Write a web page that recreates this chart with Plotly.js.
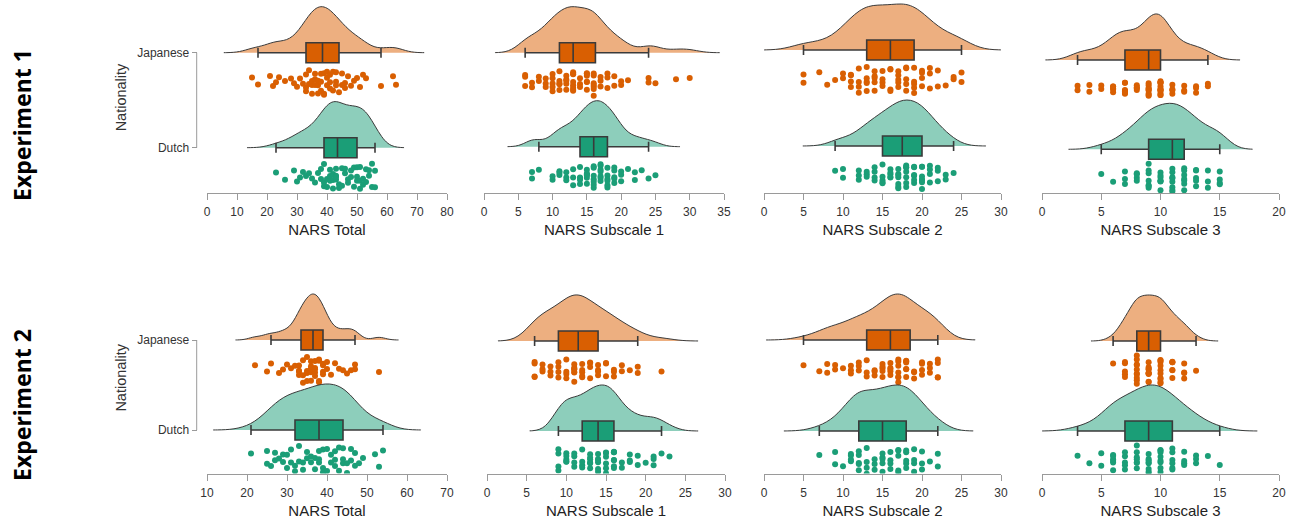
<!DOCTYPE html>
<html><head><meta charset="utf-8">
<script src="https://cdn.plot.ly/plotly-3.0.1.min.js"></script>
<style>html,body{margin:0;padding:0;background:#fff}#chart{width:1297px;height:522px}</style>
</head><body><div id="chart"></div>
<script>
// ---------------- DATA ----------------
const experiments = ['Experiment 1', 'Experiment 2'];
const measures = ['NARS Total', 'NARS Subscale 1', 'NARS Subscale 2', 'NARS Subscale 3'];
const nationalities = ['Japanese', 'Dutch'];
const nationalityTicks = ['Dutch', 'Japanese'];

// NARS Total (raw scores)
const exp1_total_japanese = [15,17,21,22,23,24,26,28,29,30,31,32,33,33,33,34,34,35,35,35,36,36,36,37,37,37,38,38,38,39,39,39,40,40,40,41,41,41,42,42,43,43,43,44,45,45,46,46,47,48,49,50,51,52,53,58,62,63];
const exp1_total_dutch = [23,26,29,30,31,32,33,34,35,36,37,38,38,39,39,39,40,40,41,41,41,42,42,42,43,43,43,43,44,44,45,45,46,46,47,47,48,48,49,49,50,50,50,51,51,51,52,52,53,53,54,54,55,55,56,56];
const exp2_total_japanese = [22,25,26,28,29,30,31,32,33,33,33,33,34,34,34,35,35,35,35,36,36,36,36,36,37,37,37,37,37,38,38,38,38,39,39,39,39,40,40,41,42,43,44,45,46,47,47,53];
const exp2_total_dutch = [21,25,25,26,27,27,28,29,29,30,30,31,31,32,32,33,33,34,34,35,35,36,36,37,37,38,38,38,39,39,39,40,40,41,41,42,42,42,43,43,44,44,44,45,45,46,46,47,47,48,49,52,53,54];

// Subscales: integer scores and how many participants had each score
const exp1_sub1_japanese_scores = [6,7,8,9,10,11,12,13,14,15,16,17,18,19,20,21,24,25,28,30];
const exp1_sub1_japanese_counts = [3,2,2,3,5,5,5,8,3,6,7,3,3,2,2,1,2,1,1,1];
const exp1_sub1_dutch_scores = [7,8,10,11,12,13,14,15,16,17,18,19,20,21,22,23,24,25];
const exp1_sub1_dutch_counts = [2,1,2,3,3,3,5,6,7,7,6,5,3,1,2,1,1,1];
const exp1_sub2_japanese_scores = [5,7,8,9,10,11,12,13,14,15,16,17,18,19,20,21,22,23,24,25];
const exp1_sub2_japanese_counts = [2,1,1,1,2,4,4,5,5,4,4,5,5,5,4,3,2,1,2,2];
const exp1_sub2_dutch_scores = [9,10,12,13,14,15,16,17,18,19,20,21,22,23,24];
const exp1_sub2_dutch_counts = [1,2,3,3,4,5,5,7,7,6,7,4,3,2,1];
const exp1_sub3_japanese_scores = [3,4,5,6,7,8,9,10,11,12,13,14];
const exp1_sub3_japanese_counts = [2,2,2,5,7,4,9,12,4,3,3,2];
const exp1_sub3_dutch_scores = [5,6,7,8,9,10,11,12,13,14,15];
const exp1_sub3_dutch_counts = [1,1,3,4,7,7,8,7,5,3,4];

const exp2_sub1_japanese_scores = [6,7,8,9,10,11,12,13,14,15,16,17,18,19,22];
const exp2_sub1_japanese_counts = [4,3,3,4,4,7,5,4,4,3,3,2,1,2,1];
const exp2_sub1_dutch_scores = [9,10,11,12,13,14,15,16,17,18,19,20,21,22,23];
const exp2_sub1_dutch_counts = [4,5,4,4,6,6,6,7,2,3,2,1,3,1,1];
const exp2_sub2_japanese_scores = [5,7,8,9,10,11,12,13,14,15,16,17,18,19,20,21,22];
const exp2_sub2_japanese_counts = [1,1,2,2,1,3,3,3,3,5,5,7,6,3,4,3,4];
const exp2_sub2_dutch_scores = [7,9,10,11,12,13,14,15,16,17,18,19,20,21,22];
const exp2_sub2_dutch_counts = [1,2,1,4,5,4,3,5,4,5,5,4,3,1,2];
const exp2_sub3_japanese_scores = [6,7,8,9,10,11,12,13];
const exp2_sub3_japanese_counts = [1,5,10,10,10,6,4,1];
const exp2_sub3_dutch_scores = [3,4,5,6,7,8,9,10,11,12,13,14,15];
const exp2_sub3_dutch_counts = [1,1,2,6,5,7,8,8,6,4,3,1,1];

// x-axis ranges and tick spacing per panel
const axisRanges = [[0,80],[0,35],[0,30],[0,20],[10,70],[0,30],[0,30],[0,20]];
const axisDticks = [10,5,5,5,10,5,5,5];

// ---------------- helpers ----------------
function expand(scores, counts){const out=[];scores.forEach((s,i)=>{for(let k=0;k<counts[i];k++)out.push(s);});return out;}
function quantile(sorted,p){const h=(sorted.length-1)*p,lo=Math.floor(h),hi=Math.ceil(h);return sorted[lo]+(sorted[hi]-sorted[lo])*(h-lo);}
function bwNrd0(x){ // R default bandwidth (bw.nrd0)
  const n=x.length,m=x.reduce((a,b)=>a+b,0)/n;
  const sd=Math.sqrt(x.reduce((a,b)=>a+(b-m)*(b-m),0)/(n-1));
  const s=[...x].sort((a,b)=>a-b);
  const iqr=quantile(s,0.75)-quantile(s,0.25);
  const lo=Math.min(sd,iqr/1.34)||sd||1;
  return 0.9*lo*Math.pow(n,-0.2);
}

const panelData = [
  [exp1_total_japanese, exp1_total_dutch],
  [expand(exp1_sub1_japanese_scores,exp1_sub1_japanese_counts), expand(exp1_sub1_dutch_scores,exp1_sub1_dutch_counts)],
  [expand(exp1_sub2_japanese_scores,exp1_sub2_japanese_counts), expand(exp1_sub2_dutch_scores,exp1_sub2_dutch_counts)],
  [expand(exp1_sub3_japanese_scores,exp1_sub3_japanese_counts), expand(exp1_sub3_dutch_scores,exp1_sub3_dutch_counts)],
  [exp2_total_japanese, exp2_total_dutch],
  [expand(exp2_sub1_japanese_scores,exp2_sub1_japanese_counts), expand(exp2_sub1_dutch_scores,exp2_sub1_dutch_counts)],
  [expand(exp2_sub2_japanese_scores,exp2_sub2_japanese_counts), expand(exp2_sub2_dutch_scores,exp2_sub2_dutch_counts)],
  [expand(exp2_sub3_japanese_scores,exp2_sub3_japanese_counts), expand(exp2_sub3_dutch_scores,exp2_sub3_dutch_counts)]
];

// ---------------- layout geometry (pixels) ----------------
const W=1297,H=522;
const panelX = [[207,447],[484,724],[764,1001],[1042,1279],[207,447],[487,725],[764,1001],[1042,1279]];
const panelBase = [[52.7,147.7],[52.7,146.7],[50,146],[60,149.3],[340,430],[341,431],[340,431],[341,431]]; // japanese, dutch baselines
const rowTopBottom = [[2,193],[282,473.5]];
const VIOLIN_PX = 46, BOX_PX = 20, DOT_OFFSET_PX = 28, JITTER = 0.33;

const colors = {
  Japanese:{dark:'#D95F02', light:'#EDAF80'},
  Dutch:{dark:'#1B9E77', light:'#8DCEBB'}
};

const traces=[];
const layout={
  width:W,height:H,margin:{l:0,r:0,t:0,b:0},paper_bgcolor:'#fff',plot_bgcolor:'rgba(0,0,0,0)',
  showlegend:false,font:{family:'Liberation Sans, Arial, sans-serif',color:'#333',size:12},
  violinmode:'overlay',boxmode:'overlay',shapes:[],annotations:[]
};

for(let p=0;p<8;p++){
  const row=p<4?0:1, col=p%4;
  const sfx=p===0?'':String(p+1);
  const [yJ,yD]=panelBase[p];
  const [topPx,botPx]=rowTopBottom[row];
  const u=yD-yJ;
  const yRange=[-(botPx-yD)/u, 1+(yJ-topPx)/u];
  nationalities.forEach((nat)=>{
    const vals=panelData[p][nationalities.indexOf(nat)];
    const pos = nat==='Japanese'?1:0;
    const bw=bwNrd0(vals);
    const mn=Math.min(...vals), mx=Math.max(...vals);
    // half-violin (cloud) + jittered raw points (rain)
    traces.push({
      type:'violin',orientation:'h',x:vals,y0:pos,name:nat+p,
      side:'positive',width:2*VIOLIN_PX/u,scalegroup:'panel'+p,scalemode:'width',
      bandwidth:bw,spanmode:'manual',span:[mn-3*bw,mx+3*bw],
      points:'all',pointpos:-DOT_OFFSET_PX/VIOLIN_PX,jitter:JITTER,
      marker:{color:colors[nat].dark,size:6,opacity:1,line:{width:0}},
      box:{visible:false},meanline:{visible:false},
      fillcolor:colors[nat].light,line:{color:'#3a3a3a',width:1},
      hoverinfo:'skip',xaxis:'x'+sfx,yaxis:'y'+sfx
    });
    // box plot with Tukey whiskers (outlier markers hidden, they are shown as rain)
    traces.push({
      type:'box',orientation:'h',x:vals,y0:pos,name:nat+'box'+p,
      width:BOX_PX/u,boxpoints:'outliers',marker:{opacity:0},
      whiskerwidth:0.5,fillcolor:colors[nat].dark,line:{color:'#3a3a3a',width:1.6},
      hoverinfo:'skip',xaxis:'x'+sfx,yaxis:'y'+sfx
    });
  });
  layout['xaxis'+sfx]={
    domain:[panelX[p][0]/W,panelX[p][1]/W],range:axisRanges[p],anchor:'y'+sfx,
    showline:true,linecolor:'#9a9a9a',linewidth:1,ticks:'outside',ticklen:6,tickcolor:'#9a9a9a',
    tick0:0,dtick:axisDticks[p],showgrid:false,zeroline:false,
    tickfont:{size:12,color:'#333'},ticklabelstandoff:2,
    title:{text:measures[col],font:{size:15,color:'#222'},standoff:6}
  };
  const ya={domain:[1-botPx/H,1-topPx/H],range:yRange,showgrid:false,zeroline:false,fixedrange:true};
  if(col===0){
    Object.assign(ya,{anchor:'free',position:196.7/W,showline:false,tickvals:[0,1],ticktext:nationalityTicks,
      ticks:'outside',ticklen:5,tickcolor:'#9a9a9a',tickfont:{size:12,color:'#333'},
      title:{text:'Nationality',font:{size:14.5,color:'#333'},standoff:6}});
    layout.shapes.push({type:'line',xref:'paper',yref:'y'+sfx,x0:196.7/W,x1:196.7/W,y0:0,y1:1,line:{color:'#9a9a9a',width:1}});
    layout.annotations.push({xref:'paper',yref:'paper',x:22/W,y:1-(row===0?125:405)/H,text:experiments[row],
      textangle:-90,showarrow:false,font:{family:'Noto Sans, Open Sans, sans-serif',size:23,color:'#000',weight:'bold'},xanchor:'center',yanchor:'middle'});
  } else {
    Object.assign(ya,{visible:false,anchor:'x'+sfx});
  }
  layout['yaxis'+sfx]=ya;
}

Plotly.newPlot('chart',traces,layout,{staticPlot:true,displayModeBar:false});
</script>
</body></html>
